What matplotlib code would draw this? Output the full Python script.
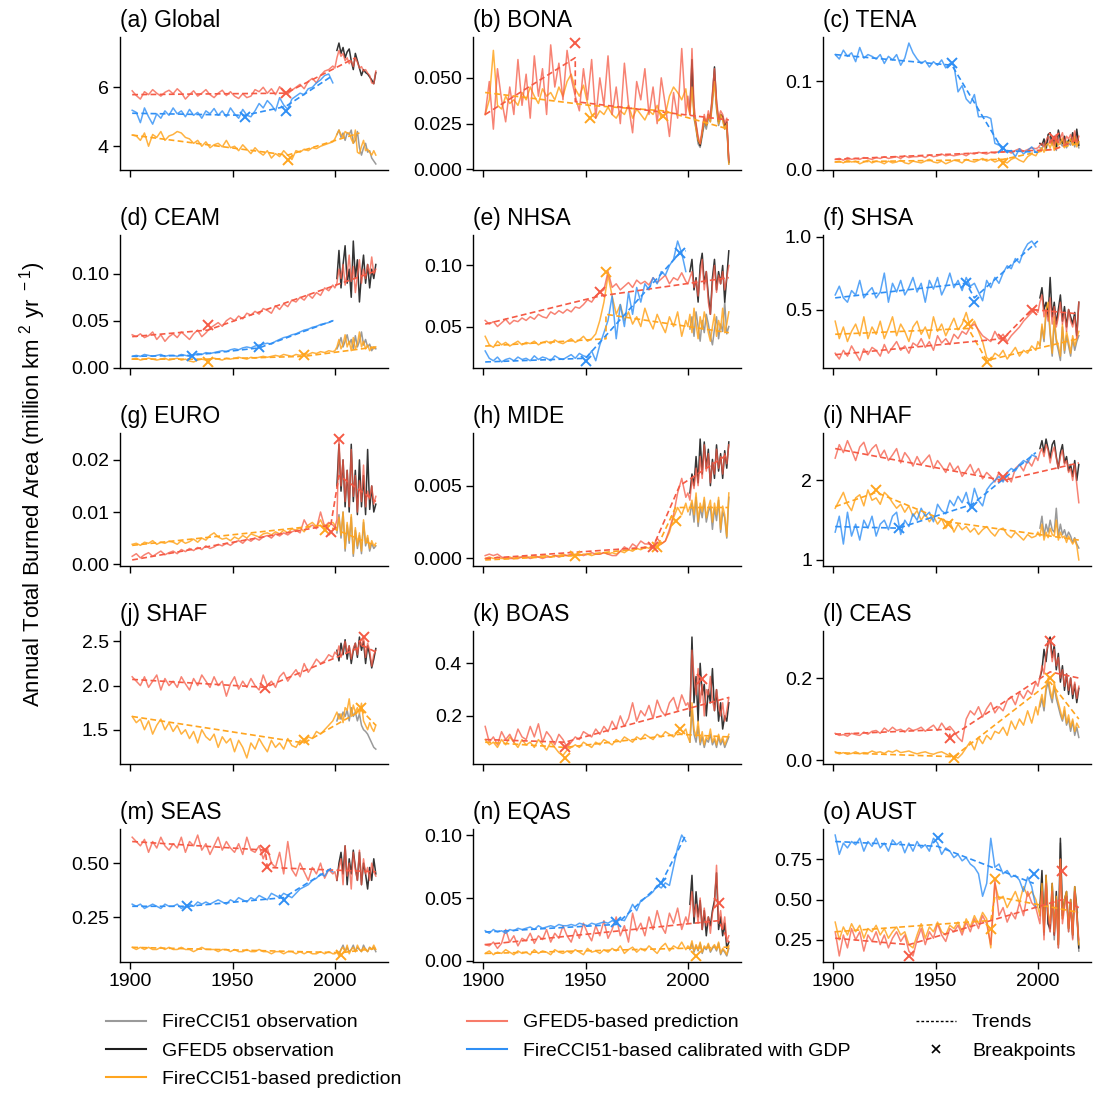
import numpy as np
import matplotlib
matplotlib.use("Agg")
import matplotlib.pyplot as plt
from matplotlib.lines import Line2D
from matplotlib.ticker import FormatStrFormatter

plt.rcParams["font.family"] = ["Liberation Sans", "DejaVu Sans"]
plt.rcParams["mathtext.fontset"] = "custom"
plt.rcParams["mathtext.rm"] = "Liberation Sans"

# Prediction years: biennial to 1999, annual from 2000
EARLY_YEARS = list(range(1901, 2000, 2))
RECENT_YEARS = list(range(2000, 2021))
PRED_YEARS = EARLY_YEARS + RECENT_YEARS
GDP_YEARS = EARLY_YEARS
OBS_YEARS = list(range(2001, 2021))

# ---------------- (a) Global, units of 0.01 Mkm2 ----------------
GLOBAL_PRED_GFED = [588, 572, 560, 585, 575, 592, 580, 570, 583, 590,
                    578, 595, 582, 560, 575, 588, 570, 580, 592, 575,
                    565, 580, 590, 572, 585, 570, 562, 578, 565, 570,
                    592, 585, 600, 580, 595, 575, 602, 585, 578, 590,
                    600, 610, 595, 620, 630, 615, 640, 655, 660, 672,
                    665, 700, 725, 705, 715, 690, 700, 680, 690, 670,
                    700, 685, 665, 670, 655, 660, 648, 640, 615, 612, 655]
GLOBAL_PRED_GDP = [522, 515, 480, 530, 500, 475, 510, 495, 520, 505,
                   530, 510, 520, 500, 525, 505, 515, 495, 520, 510,
                   528, 505, 520, 500, 530, 510, 495, 525, 505, 500,
                   520, 545, 530, 555, 540, 520, 565, 540, 525, 560,
                   570, 580, 575, 595, 600, 615, 625, 640, 645, 615]
GLOBAL_PRED_CCI = [438, 435, 420, 445, 400, 440, 430, 450, 420, 435,
                   440, 450, 445, 430, 425, 410, 420, 400, 415, 395,
                   405, 410, 398, 420, 395, 400, 385, 405, 390, 375,
                   395, 380, 370, 385, 360, 375, 365, 385, 370, 355,
                   385, 380, 390, 385, 395, 392, 400, 405, 410, 415,
                   425, 440, 455, 440, 430, 450, 445, 445, 425, 410,
                   455, 380, 375, 400, 420, 385, 390, 380, 370, 385, 370]
GLOBAL_OBS_GFED = [725, 750, 715, 735, 700, 720, 730, 690, 660, 715,
                   690, 665, 640, 660, 650, 645, 635, 625, 612, 650]
GLOBAL_OBS_CCI = [440, 455, 430, 445, 420, 445, 440, 455, 410, 420,
                  450, 395, 370, 395, 410, 380, 385, 360, 350, 340]
GLOBAL_TREND_GFED = ([1901, 1976, 2010], [575, 580, 700])
GLOBAL_BP_GFED = [(1976, 580)]
GLOBAL_TREND_GDP = ([1901, 1956, 1976, 1999], [512, 505, 535, 640])
GLOBAL_BP_GDP = [(1956, 500), (1976, 520)]
GLOBAL_TREND_CCI = ([1901, 1977, 2012], [438, 370, 445])
GLOBAL_BP_CCI = [(1977, 355)]

# ---------------- (b) BONA, units of 0.001 ----------------
BONA_PRED_GFED = [30, 48, 22, 55, 38, 26, 45, 30, 60, 35,
                  52, 28, 62, 40, 55, 30, 68, 45, 58, 38,
                  65, 50, 40, 32, 55, 38, 60, 28, 50, 35,
                  62, 30, 45, 25, 58, 35, 20, 48, 38, 55,
                  30, 45, 25, 50, 35, 18, 42, 28, 66, 30,
                  40, 30, 66, 35, 25, 18, 14, 22, 30, 25,
                  32, 28, 42, 55, 38, 28, 32, 30, 25, 28, 5]
BONA_PRED_CCI = [30, 38, 65, 35, 33, 40, 36, 38, 35, 42,
                 38, 45, 40, 36, 44, 40, 42, 38, 45, 40,
                 48, 52, 44, 40, 46, 36, 30, 28, 32, 30,
                 34, 30, 28, 32, 30, 35, 28, 33, 30, 27,
                 32, 30, 35, 28, 30, 40, 45, 42, 38, 44,
                 35, 30, 45, 30, 22, 16, 14, 20, 28, 24,
                 30, 26, 38, 48, 34, 25, 30, 27, 22, 25, 3]
BONA_OBS_GFED = [32, 60, 30, 24, 16, 13, 20, 28, 24, 30,
                 28, 40, 56, 36, 26, 30, 29, 24, 26, 4]
BONA_OBS_CCI = [30, 55, 28, 22, 14, 12, 18, 25, 22, 28,
                26, 36, 50, 33, 24, 28, 27, 22, 24, 3]
BONA_TREND_GFED = ([1901, 1945, 1945, 2020], [30, 61, 37, 27])
BONA_BP_GFED = [(1945, 69)]
BONA_TREND_CCI = ([1901, 1952, 1988, 2020], [42, 35, 32, 22])
BONA_BP_CCI = [(1952, 28), (1988, 29)]

# ---------------- (c) TENA, units of 0.001 ----------------
TENA_PRED_GFED = [12, 13, 11, 14, 12, 13, 12, 14, 13, 12,
                  14, 13, 15, 13, 14, 15, 13, 16, 14, 15,
                  15, 16, 14, 17, 15, 16, 18, 16, 17, 16,
                  17, 18, 16, 19, 18, 20, 19, 18, 20, 19,
                  21, 20, 22, 19, 22, 24, 21, 23, 25, 24,
                  25, 28, 30, 26, 33, 38, 30, 35, 28, 40,
                  32, 36, 42, 30, 38, 35, 40, 33, 44, 30, 38]
TENA_PRED_GDP = [130, 125, 135, 128, 132, 122, 138, 126, 130, 128,
                 125, 130, 120, 128, 124, 130, 118, 126, 143, 132,
                 125, 120, 123, 116, 122, 118, 124, 115, 120, 118,
                 88, 95, 80, 75, 85, 60, 60, 60, 58, 30,
                 28, 25, 20, 22, 15, 24, 18, 22, 26, 20]
TENA_PRED_CCI = [9, 10, 8, 11, 9, 10, 7, 9, 11, 8,
                 10, 9, 7, 10, 8, 9, 11, 8, 7, 10,
                 9, 8, 10, 12, 9, 8, 10, 7, 9, 11,
                 10, 8, 12, 10, 9, 11, 13, 10, 12, 9,
                 11, 10, 8, 12, 14, 11, 9, 15, 18, 16,
                 20, 22, 25, 20, 28, 30, 25, 32, 22, 35,
                 28, 30, 36, 25, 32, 30, 35, 28, 38, 26, 32]
TENA_OBS_GFED = [30, 28, 35, 25, 40, 42, 30, 38, 25, 45,
                 35, 30, 38, 28, 34, 32, 42, 30, 46, 28]
TENA_OBS_CCI = [25, 24, 30, 22, 35, 38, 28, 34, 22, 40,
                30, 27, 33, 25, 30, 28, 36, 26, 40, 25]
TENA_TREND_GFED = ([1901, 2008, 2020], [12, 23, 35])
TENA_BP_GFED = [(2008, 36)]
TENA_TREND_GDP = ([1901, 1958, 1983, 2000], [130, 118, 22, 20])
TENA_BP_GDP = [(1958, 120), (1983, 25)]
TENA_TREND_CCI = ([1901, 1983, 2020], [9, 12, 30])
TENA_BP_CCI = [(1983, 8)]

# ---------------- (d) CEAM, units of 0.001 ----------------
CEAM_PRED_GFED = [35, 33, 36, 32, 34, 38, 30, 35, 28, 33,
                  36, 32, 38, 34, 30, 36, 40, 33, 37, 42,
                  45, 48, 44, 50, 53, 50, 55, 52, 58, 56,
                  60, 57, 63, 61, 58, 66, 62, 68, 65, 72,
                  70, 75, 72, 78, 74, 80, 77, 85, 82, 88,
                  85, 90, 105, 95, 110, 88, 100, 120, 92, 108,
                  80, 98, 115, 90, 105, 95, 110, 100, 118, 100, 105]
CEAM_PRED_GDP = [12, 13, 12, 14, 13, 12, 13, 14, 12, 13,
                 13, 12, 14, 13, 12, 13, 15, 14, 16, 15,
                 16, 17, 18, 17, 19, 20, 19, 21, 22, 21,
                 23, 24, 25, 26, 25, 28, 30, 32, 33, 35,
                 36, 38, 40, 41, 43, 44, 46, 47, 48, 50]
CEAM_PRED_CCI = [9, 10, 8, 9, 10, 9, 8, 9, 10, 8,
                 9, 10, 8, 9, 7, 6, 8, 9, 8, 9,
                 10, 9, 8, 10, 9, 10, 11, 10, 9, 11,
                 10, 11, 12, 11, 12, 13, 12, 14, 13, 12,
                 14, 13, 15, 14, 16, 15, 17, 16, 18, 17,
                 18, 22, 30, 20, 25, 35, 22, 28, 18, 32,
                 20, 25, 38, 22, 28, 20, 24, 18, 22, 20, 22]
CEAM_OBS_GFED = [95, 125, 85, 110, 130, 90, 105, 75, 135, 95,
                 115, 70, 100, 120, 90, 110, 85, 105, 95, 110]
CEAM_OBS_CCI = [20, 25, 32, 22, 28, 35, 25, 30, 20, 34,
                22, 28, 38, 24, 30, 22, 25, 18, 22, 20]
CEAM_TREND_GFED = ([1901, 1938, 2020], [33, 40, 103])
CEAM_BP_GFED = [(1938, 45)]
CEAM_TREND_GDP = ([1901, 1930, 1963, 1999], [12, 13, 21, 50])
CEAM_BP_GDP = [(1930, 12), (1963, 22)]
CEAM_TREND_CCI = ([1901, 1938, 1985, 2020], [9, 9, 12, 22])
CEAM_BP_CCI = [(1938, 6), (1985, 13)]

# ---------------- (e) NHSA, units of 0.001 ----------------
NHSA_PRED_GFED = [55, 52, 54, 50, 53, 56, 52, 55, 54, 57,
                  55, 58, 56, 60, 58, 57, 62, 60, 63, 61,
                  64, 62, 66, 65, 68, 72, 70, 75, 78, 80,
                  95, 82, 85, 80, 83, 86, 82, 88, 85, 87,
                  84, 90, 86, 89, 92, 85, 90, 88, 94, 87,
                  85, 90, 95, 82, 88, 75, 92, 105, 80, 95,
                  70, 60, 85, 100, 78, 92, 85, 95, 80, 90, 100]
NHSA_PRED_GDP = [30, 24, 22, 25, 21, 23, 24, 22, 25, 23,
                 24, 22, 26, 23, 25, 24, 22, 26, 24, 23,
                 25, 27, 24, 28, 26, 25, 30, 22, 35, 45,
                 55, 75, 40, 68, 50, 78, 60, 82, 70, 85,
                 80, 90, 85, 95, 92, 100, 105, 120, 110, 95]
NHSA_PRED_CCI = [42, 35, 33, 38, 35, 37, 34, 36, 38, 35,
                 37, 36, 38, 35, 37, 38, 36, 39, 37, 36,
                 38, 40, 37, 39, 42, 38, 40, 44, 55, 70,
                 92, 75, 60, 68, 55, 62, 52, 58, 50, 65,
                 55, 48, 60, 52, 45, 58, 50, 62, 42, 55,
                 50, 60, 45, 65, 52, 40, 58, 48, 62, 55,
                 45, 38, 50, 60, 42, 55, 48, 65, 45, 52, 62]
NHSA_OBS_GFED = [95, 105, 80, 90, 70, 100, 110, 85, 95, 75,
                 60, 90, 105, 80, 95, 85, 100, 70, 90, 112]
NHSA_OBS_CCI = [48, 58, 42, 62, 50, 38, 55, 45, 60, 52,
                42, 35, 48, 58, 40, 52, 46, 70, 44, 50]
NHSA_TREND_GFED = ([1901, 1957, 2020], [52, 75, 90])
NHSA_BP_GFED = [(1957, 78)]
NHSA_TREND_GDP = ([1901, 1950, 1996, 1999], [21, 24, 110, 112])
NHSA_BP_GDP = [(1950, 22), (1996, 110)]
NHSA_TREND_CCI = ([1901, 1960, 1960, 2020], [34, 40, 60, 45])
NHSA_BP_CCI = [(1960, 95)]

# ---------------- (f) SHSA, units of 0.01 ----------------
SHSA_PRED_GFED = [20, 16, 22, 18, 25, 20, 15, 23, 19, 24,
                  22, 18, 26, 20, 24, 28, 22, 25, 20, 27,
                  25, 30, 24, 28, 22, 32, 27, 30, 26, 33,
                  30, 35, 33, 38, 40, 36, 32, 30, 28, 35,
                  30, 33, 28, 32, 35, 38, 42, 45, 48, 50,
                  48, 55, 60, 45, 50, 42, 58, 40, 52, 38,
                  45, 55, 40, 48, 35, 50, 42, 38, 45, 30, 55]
SHSA_PRED_GDP = [60, 66, 58, 55, 63, 60, 70, 58, 62, 65,
                 58, 62, 75, 55, 68, 62, 70, 60, 65, 72,
                 62, 68, 55, 70, 64, 72, 60, 66, 75, 65,
                 70, 63, 72, 66, 68, 62, 56, 70, 65, 72,
                 68, 75, 80, 78, 85, 82, 90, 95, 97, 93]
SHSA_PRED_CCI = [42, 30, 38, 28, 35, 40, 32, 45, 30, 38,
                 33, 42, 30, 37, 45, 32, 40, 35, 28, 38,
                 42, 33, 38, 30, 45, 35, 40, 32, 38, 44,
                 36, 40, 48, 38, 42, 35, 28, 17, 15, 20,
                 18, 22, 16, 20, 24, 18, 22, 20, 25, 22,
                 28, 25, 40, 30, 50, 55, 35, 20, 45, 30,
                 25, 18, 40, 22, 35, 28, 20, 32, 25, 30, 35]
SHSA_OBS_GFED = [58, 65, 50, 55, 45, 72, 45, 55, 40, 50,
                 60, 42, 52, 38, 50, 45, 40, 48, 32, 55]
SHSA_OBS_CCI = [25, 38, 28, 48, 52, 33, 18, 42, 28, 22,
                15, 38, 20, 32, 25, 18, 30, 22, 28, 32]
SHSA_TREND_GFED = ([1901, 1983, 1997, 2020], [19, 30, 50, 47])
SHSA_BP_GFED = [(1983, 30), (1997, 50)]
SHSA_TREND_GDP = ([1901, 1965, 1969, 2000], [58, 68, 58, 97])
SHSA_BP_GDP = [(1965, 68), (1969, 55)]
SHSA_TREND_CCI = ([1901, 1966, 1975, 2020], [33, 37, 15, 30])
SHSA_BP_CCI = [(1966, 40), (1975, 14)]

# ---------------- (g) EURO, units of 0.0001 ----------------
EURO_PRED_GFED = [15, 20, 12, 18, 22, 15, 20, 25, 18, 22,
                  25, 20, 28, 24, 30, 26, 32, 28, 35, 30,
                  33, 38, 35, 40, 36, 42, 45, 40, 48, 44,
                  50, 46, 52, 55, 50, 58, 54, 60, 56, 62,
                  65, 60, 85, 70, 75, 68, 100, 72, 80, 75,
                  70, 85, 240, 150, 200, 120, 180, 110, 220, 130,
                  170, 100, 160, 120, 190, 110, 140, 125, 150, 115, 130]
EURO_PRED_CCI = [38, 40, 36, 42, 40, 45, 38, 42, 40, 44,
                 42, 38, 45, 40, 43, 48, 42, 50, 46, 55,
                 60, 52, 48, 50, 45, 52, 48, 55, 50, 58,
                 55, 52, 58, 60, 56, 62, 58, 65, 60, 68,
                 65, 70, 62, 75, 80, 72, 85, 68, 78, 80,
                 75, 65, 90, 55, 100, 30, 80, 45, 95, 20,
                 70, 35, 60, 25, 85, 40, 55, 30, 45, 35, 40]
EURO_OBS_GFED = [150, 230, 140, 200, 110, 180, 100, 230, 120, 180,
                 95, 200, 110, 170, 95, 220, 105, 150, 100, 115]
EURO_OBS_CCI = [60, 95, 50, 100, 25, 75, 40, 90, 15, 65,
                30, 55, 20, 80, 35, 50, 25, 40, 30, 35]
EURO_TREND_GFED = ([1901, 1998, 2002, 2020], [8, 75, 170, 120])
EURO_BP_GFED = [(1998, 62), (2002, 240)]
EURO_TREND_CCI = ([1901, 1995, 2020], [36, 75, 35])
EURO_BP_CCI = [(1995, 65)]

# ---------------- (h) MIDE, units of 0.0001 ----------------
MIDE_PRED_GFED = [2, 3, 2, 3, 1, 0, 0, 0, 0, 1,
                  1, 0, 1, 1, 0, 1, 1, 2, 1, 2,
                  2, 3, 2, 3, 2, 3, 4, 3, 3, 4,
                  3, 2, 2, 5, 8, 6, 10, 8, 12, 10,
                  10, 8, 14, 10, 12, 20, 30, 45, 55, 42,
                  45, 40, 55, 48, 62, 50, 70, 55, 78, 60,
                  72, 52, 66, 58, 75, 62, 70, 58, 72, 65, 78]
MIDE_PRED_CCI = [0, 1, 0, 1, 0, 0, 1, 0, 1, 1,
                 1, 1, 2, 1, 2, 2, 1, 2, 2, 3,
                 2, 2, 3, 2, 3, 3, 2, 3, 3, 4,
                 3, 4, 3, 5, 4, 6, 5, 7, 6, 8,
                 7, 9, 8, 10, 12, 18, 28, 35, 30, 38,
                 32, 35, 40, 30, 45, 25, 38, 32, 42, 28,
                 35, 40, 25, 38, 30, 42, 20, 36, 30, 15, 45]
MIDE_OBS_GFED = [45, 58, 50, 70, 52, 82, 58, 80, 62, 75,
                 50, 68, 55, 78, 60, 72, 55, 74, 62, 80]
MIDE_OBS_CCI = [30, 38, 25, 42, 22, 35, 28, 40, 25, 32,
                36, 20, 35, 26, 40, 18, 32, 28, 14, 42]
MIDE_TREND_GFED = ([1901, 1983, 1996, 2020], [0, 8, 50, 72])
MIDE_BP_GFED = [(1983, 8)]
MIDE_TREND_CCI = ([1901, 1945, 1985, 1994, 2020], [-1, 2, 8, 35, 35])
MIDE_BP_CCI = [(1945, 2), (1985, 8), (1994, 26)]

# ---------------- (i) NHAF, units of 0.01 ----------------
NHAF_PRED_GFED = [228, 245, 235, 250, 238, 225, 242, 248, 232, 240,
                  245, 230, 238, 225, 232, 240, 222, 235, 228, 218,
                  230, 220, 226, 232, 215, 225, 218, 210, 222, 212,
                  218, 205, 212, 220, 208, 215, 202, 210, 205, 198,
                  210, 200, 206, 198, 215, 220, 212, 225, 218, 230,
                  225, 235, 240, 230, 245, 238, 222, 235, 242, 228,
                  215, 230, 238, 220, 225, 210, 215, 200, 220, 195, 172]
NHAF_PRED_GDP = [135, 155, 120, 160, 130, 145, 125, 150, 140, 155,
                 130, 145, 150, 138, 155, 160, 132, 150, 142, 158,
                 150, 165, 155, 160, 148, 170, 162, 158, 175, 168,
                 180, 172, 185, 165, 190, 175, 168, 188, 195, 200,
                 205, 198, 210, 215, 212, 220, 225, 222, 232, 230]
NHAF_PRED_CCI = [165, 175, 185, 170, 162, 178, 182, 168, 188, 175,
                 178, 170, 185, 180, 172, 165, 170, 160, 168, 155,
                 162, 150, 158, 148, 155, 145, 152, 140, 148, 135,
                 145, 138, 142, 135, 140, 132, 138, 142, 135, 130,
                 138, 140, 132, 128, 135, 130, 125, 132, 128, 130,
                 135, 130, 145, 125, 135, 128, 140, 132, 130, 150,
                 125, 135, 128, 130, 122, 130, 125, 120, 125, 118, 100]
NHAF_OBS_GFED = [240, 250, 235, 252, 240, 228, 245, 250, 230, 215,
                 235, 245, 222, 230, 212, 220, 205, 225, 200, 220]
NHAF_OBS_CCI = [140, 155, 130, 145, 135, 150, 138, 135, 165, 130,
                145, 132, 138, 128, 135, 130, 122, 128, 120, 115]
NHAF_TREND_GFED = ([1901, 1983, 2020], [240, 200, 222])
NHAF_BP_GFED = [(1983, 204)]
NHAF_TREND_GDP = ([1901, 1932, 1968, 1999], [142, 140, 170, 235])
NHAF_BP_GDP = [(1932, 140), (1968, 166)]
NHAF_TREND_CCI = ([1901, 1921, 1956, 2020], [167, 185, 148, 125])
NHAF_BP_CCI = [(1921, 188), (1956, 145)]

# ---------------- (j) SHAF, units of 0.01 ----------------
SHAF_PRED_GFED = [210, 205, 200, 210, 198, 205, 212, 195, 208, 200,
                  205, 198, 210, 202, 195, 208, 200, 212, 205, 198,
                  210, 200, 205, 188, 202, 210, 196, 205, 198, 208,
                  200, 195, 212, 200, 205, 198, 210, 215, 205, 212,
                  218, 210, 225, 215, 222, 230, 225, 228, 235, 232,
                  238, 235, 245, 232, 240, 250, 238, 245, 230, 242,
                  248, 235, 250, 245, 255, 232, 248, 240, 222, 235, 240]
SHAF_PRED_CCI = [165, 158, 162, 150, 160, 145, 155, 162, 150, 158,
                 148, 155, 145, 150, 140, 148, 135, 150, 142, 138,
                 145, 130, 142, 135, 140, 125, 138, 130, 118, 135,
                 128, 140, 132, 125, 138, 130, 135, 128, 140, 132,
                 130, 138, 135, 142, 140, 148, 145, 150, 155, 160,
                 165, 170, 162, 168, 158, 175, 172, 185, 165, 178,
                 170, 175, 168, 180, 160, 155, 150, 158, 152, 148, 155]
SHAF_OBS_GFED = [240, 228, 248, 235, 252, 230, 245, 225, 240, 248,
                 232, 255, 240, 250, 225, 245, 235, 220, 230, 242]
SHAF_OBS_CCI = [160, 168, 162, 170, 165, 172, 160, 175, 165, 170,
                160, 168, 155, 150, 148, 145, 140, 135, 130, 128]
SHAF_TREND_GFED = ([1901, 1966, 2014, 2020], [207, 198, 245, 238])
SHAF_BP_GFED = [(1966, 197), (2014, 255)]
SHAF_TREND_CCI = ([1901, 1985, 2013, 2020], [165, 135, 172, 155])
SHAF_BP_CCI = [(1985, 138), (2013, 175)]

# ---------------- (k) BOAS, units of 0.01 ----------------
BOAS_PRED_GFED = [16, 10, 12, 9, 14, 11, 13, 10, 15, 12,
                  11, 16, 12, 17, 10, 14, 12, 9, 13, 11,
                  8, 10, 12, 11, 14, 13, 12, 15, 13, 16,
                  14, 18, 15, 20, 16, 19, 25, 18, 22, 20,
                  24, 19, 26, 22, 20, 25, 27, 22, 28, 24,
                  25, 22, 45, 35, 28, 38, 25, 32, 20, 30,
                  28, 35, 26, 22, 30, 24, 20, 25, 18, 22, 27]
BOAS_PRED_CCI = [11, 9, 10, 8, 11, 9, 12, 10, 8, 11,
                 9, 10, 8, 11, 9, 7, 10, 8, 6, 5,
                 7, 8, 9, 8, 10, 9, 8, 10, 9, 11,
                 10, 9, 11, 10, 12, 11, 10, 12, 11, 13,
                 12, 11, 13, 12, 14, 13, 12, 14, 13, 15,
                 12, 10, 25, 15, 12, 18, 10, 14, 9, 12,
                 11, 15, 10, 12, 9, 13, 10, 12, 9, 11, 13]
BOAS_OBS_GFED = [20, 50, 25, 35, 18, 40, 28, 32, 20, 30,
                 25, 38, 22, 30, 18, 25, 15, 20, 18, 25]
BOAS_OBS_CCI = [10, 22, 13, 10, 16, 9, 12, 8, 11, 10,
                13, 9, 11, 8, 12, 9, 11, 8, 10, 12]
BOAS_TREND_GFED = ([1901, 1940, 2020], [11, 10, 27])
BOAS_BP_GFED = [(1940, 8), (2007, 34)]
BOAS_TREND_CCI = ([1901, 1940, 1996, 2020], [10, 8, 13, 12])
BOAS_BP_CCI = [(1940, 4), (1996, 15)]

# ---------------- (l) CEAS, units of 0.001 ----------------
CEAS_PRED_GFED = [65, 60, 62, 58, 65, 62, 60, 68, 63, 70,
                  72, 65, 78, 70, 80, 72, 75, 68, 78, 72,
                  75, 80, 70, 78, 85, 72, 90, 75, 82, 70,
                  55, 45, 100, 120, 110, 130, 105, 125, 140, 115,
                  130, 120, 145, 155, 135, 165, 150, 170, 160, 190,
                  180, 200, 230, 210, 260, 280, 290, 240, 270, 230,
                  250, 200, 220, 180, 210, 170, 200, 160, 190, 150, 180]
CEAS_PRED_CCI = [20, 15, 18, 14, 16, 20, 15, 18, 17, 22,
                 18, 20, 16, 22, 19, 24, 18, 20, 22, 18,
                 15, 18, 20, 16, 14, 18, 20, 15, 10, 8,
                 5, 15, 30, 45, 25, 55, 40, 60, 50, 70,
                 65, 80, 60, 95, 75, 100, 85, 120, 90, 130,
                 110, 140, 160, 130, 180, 200, 170, 150, 190, 160,
                 140, 120, 100, 130, 90, 110, 80, 100, 70, 90, 80]
CEAS_OBS_GFED = [200, 220, 270, 240, 290, 300, 250, 280, 220, 260,
                 190, 230, 170, 210, 160, 200, 150, 185, 140, 175]
CEAS_OBS_CCI = [130, 150, 120, 170, 190, 160, 140, 180, 150, 130,
                110, 95, 120, 85, 100, 70, 95, 60, 80, 55]
CEAS_TREND_GFED = ([1901, 1957, 1957, 2006, 2020], [63, 75, 55, 215, 200])
CEAS_BP_GFED = [(1957, 54), (2006, 290)]
CEAS_TREND_CCI = ([1901, 1959, 2006, 2020], [18, 8, 190, 100])
CEAS_BP_CCI = [(1959, 5), (2006, 200)]

# ---------------- (m) SEAS, units of 0.01 ----------------
SEAS_PRED_GFED = [62, 60, 58, 61, 55, 60, 57, 62, 58, 56,
                  59, 57, 62, 55, 60, 58, 63, 56, 59, 54,
                  58, 62, 56, 60, 57, 55, 59, 54, 62, 56,
                  55, 58, 52, 57, 50, 48, 55, 45, 60, 47,
                  44, 50, 46, 42, 48, 45, 50, 43, 47, 45,
                  46, 42, 48, 52, 40, 58, 44, 50, 38, 55,
                  47, 42, 56, 40, 52, 45, 48, 42, 50, 46, 44]
SEAS_PRED_GDP = [31, 30, 31, 29, 30, 31, 30, 29, 31, 30,
                 30, 31, 29, 30, 31, 30, 32, 31, 32, 31,
                 32, 33, 32, 31, 33, 32, 34, 33, 32, 34,
                 33, 35, 34, 33, 36, 35, 34, 36, 35, 34,
                 36, 38, 39, 40, 42, 43, 45, 44, 47, 46]
SEAS_PRED_CCI = [11, 10, 11, 10, 11, 10, 10, 11, 10, 11,
                 10, 10, 11, 10, 10, 9, 10, 11, 10, 10,
                 10, 9, 10, 10, 9, 10, 9, 9, 10, 9,
                 9, 10, 9, 9, 8, 9, 9, 8, 9, 9,
                 8, 9, 8, 9, 8, 8, 9, 8, 9, 8,
                 8, 9, 7, 10, 11, 9, 12, 8, 10, 11,
                 9, 12, 10, 9, 11, 10, 9, 11, 10, 12, 10]
SEAS_OBS_GFED = [42, 50, 55, 45, 58, 40, 52, 45, 56, 48,
                 42, 55, 40, 50, 45, 38, 48, 42, 52, 45]
SEAS_OBS_CCI = [9, 8, 10, 12, 9, 11, 9, 10, 12, 9,
                11, 10, 9, 12, 10, 9, 11, 10, 11, 9]
SEAS_TREND_GFED = ([1901, 1966, 1967, 2020], [60, 56, 48, 46])
SEAS_BP_GFED = [(1966, 56), (1967, 48)]
SEAS_TREND_GDP = ([1901, 1928, 1975, 1999], [30, 30, 34, 48])
SEAS_BP_GDP = [(1928, 30), (1975, 33)]
SEAS_TREND_CCI = ([1901, 2003, 2020], [11, 8.5, 10.5])
SEAS_BP_CCI = [(2003, 7.5)]

# ---------------- (n) EQAS, units of 0.001 ----------------
EQAS_PRED_GFED = [13, 12, 15, 10, 14, 25, 15, 20, 12, 18,
                  16, 22, 14, 20, 17, 25, 15, 22, 18, 28,
                  20, 15, 25, 18, 30, 22, 16, 28, 20, 32,
                  18, 25, 35, 20, 28, 15, 38, 24, 30, 20,
                  35, 25, 40, 28, 22, 38, 30, 42, 25, 35,
                  30, 40, 55, 35, 45, 30, 50, 25, 42, 28,
                  35, 22, 38, 45, 76, 30, 40, 25, 35, 15, 20]
EQAS_PRED_GDP = [24, 22, 25, 23, 24, 22, 25, 24, 26, 25,
                 26, 27, 25, 28, 26, 27, 28, 27, 29, 28,
                 28, 29, 28, 30, 29, 28, 30, 29, 30, 31,
                 30, 32, 31, 33, 32, 38, 45, 40, 48, 50,
                 52, 55, 60, 58, 62, 60, 75, 90, 100, 95]
EQAS_PRED_CCI = [6, 8, 5, 7, 6, 9, 7, 5, 8, 6,
                 7, 5, 9, 6, 8, 7, 5, 9, 7, 6,
                 8, 6, 9, 7, 5, 10, 7, 8, 6, 9,
                 7, 10, 8, 12, 6, 9, 11, 7, 10, 8,
                 12, 9, 6, 11, 14, 8, 12, 10, 15, 9,
                 12, 10, 16, 8, 13, 9, 15, 7, 12, 10,
                 14, 8, 11, 13, 9, 15, 6, 10, 8, 5, 12]
EQAS_OBS_GFED = [45, 68, 30, 55, 35, 48, 25, 40, 20, 35,
                 28, 40, 48, 70, 25, 35, 20, 30, 10, 15]
EQAS_OBS_CCI = [9, 14, 7, 12, 8, 14, 6, 11, 9, 13,
                7, 10, 12, 8, 14, 5, 9, 7, 4, 10]
EQAS_TREND_GFED = ([1901, 2015, 2020], [13, 32, 15])
EQAS_BP_GFED = [(2015, 46)]
EQAS_TREND_GDP = ([1901, 1965, 1987, 1999], [23, 29, 62, 100])
EQAS_BP_GDP = [(1965, 31), (1987, 62)]
EQAS_TREND_CCI = ([1901, 2020], [6, 11])
EQAS_BP_CCI = [(2004, 4)]

# ---------------- (o) AUST, units of 0.01 ----------------
AUST_PRED_GFED = [30, 15, 28, 20, 32, 25, 30, 18, 28, 24,
                  30, 22, 28, 20, 26, 30, 24, 28, 18, 15,
                  25, 32, 22, 30, 26, 35, 28, 24, 32, 30,
                  34, 28, 36, 30, 38, 32, 40, 35, 22, 62,
                  40, 45, 36, 42, 38, 48, 40, 55, 48, 45,
                  40, 35, 55, 25, 60, 40, 30, 55, 28, 50,
                  20, 75, 35, 45, 52, 30, 48, 25, 55, 40, 25]
AUST_PRED_GDP = [90, 78, 85, 82, 86, 84, 88, 80, 86, 83,
                 88, 82, 85, 80, 87, 84, 86, 79, 85, 80,
                 86, 82, 84, 80, 88, 85, 78, 82, 80, 76,
                 78, 74, 76, 72, 70, 66, 52, 60, 88, 70,
                 72, 66, 68, 64, 65, 62, 55, 64, 58, 45]
AUST_PRED_CCI = [36, 25, 33, 28, 35, 30, 34, 26, 32, 30,
                 34, 28, 32, 26, 30, 33, 28, 30, 22, 20,
                 28, 35, 26, 33, 30, 36, 30, 28, 34, 32,
                 36, 30, 38, 33, 40, 35, 42, 38, 20, 60,
                 50, 52, 45, 50, 55, 48, 58, 52, 55, 50,
                 45, 40, 60, 30, 65, 42, 35, 60, 30, 52,
                 22, 75, 38, 50, 55, 32, 50, 28, 58, 42, 22]
AUST_OBS_GFED = [45, 68, 30, 65, 35, 32, 60, 28, 55, 22,
                 88, 40, 50, 55, 32, 50, 28, 58, 45, 20]
AUST_OBS_CCI = [40, 62, 28, 62, 35, 30, 58, 25, 52, 20,
                85, 38, 48, 52, 30, 48, 26, 55, 42, 18]
AUST_TREND_GFED = ([1901, 1937, 2012, 2020], [26, 22, 50, 45])
AUST_BP_GFED = [(1937, 15), (2012, 68)]
AUST_TREND_GDP = ([1901, 1951, 1998], [86, 83, 60])
AUST_BP_GDP = [(1951, 88), (1998, 66)]
AUST_TREND_CCI = ([1901, 1977, 1979, 2020], [30, 37, 52, 42])
AUST_BP_CCI = [(1977, 32), (1979, 63)]

# Panel order, value unit, y ticks and tick format
REGIONS = ["GLOBAL", "BONA", "TENA", "CEAM", "NHSA", "SHSA", "EURO", "MIDE",
           "NHAF", "SHAF", "BOAS", "CEAS", "SEAS", "EQAS", "AUST"]
TITLES = ["(a) Global", "(b) BONA", "(c) TENA", "(d) CEAM", "(e) NHSA",
          "(f) SHSA", "(g) EURO", "(h) MIDE", "(i) NHAF", "(j) SHAF",
          "(k) BOAS", "(l) CEAS", "(m) SEAS", "(n) EQAS", "(o) AUST"]
UNITS = [0.01, 0.001, 0.001, 0.001, 0.001, 0.01, 0.0001, 0.0001,
         0.01, 0.01, 0.01, 0.001, 0.01, 0.001, 0.01]
YTICKS = [[4, 6], [0, 0.025, 0.05], [0, 0.1], [0, 0.05, 0.10], [0.05, 0.10],
          [0.5, 1.0], [0, 0.01, 0.02], [0, 0.005], [1, 2], [1.5, 2.0, 2.5],
          [0.2, 0.4], [0, 0.2], [0.25, 0.50], [0, 0.05, 0.10], [0.25, 0.50, 0.75]]
YFMT = ["%d", "%.3f", "%.1f", "%.2f", "%.2f", "%.1f", "%.2f", "%.3f", "%d",
        "%.1f", "%.1f", "%.1f", "%.2f", "%.2f", "%.2f"]

C_OBS_CCI = "#9a9a9a"
C_OBS_GFED = "#1e1e1e"
C_PRED_CCI = "#FFA51F"
C_PRED_GFED = "#F55A45"
C_PRED_GDP = "#2F8FF5"

W, H = 1097, 1093
COL_LEFT = [120, 473, 823]
ROW_BOTTOM = [170, 368, 566, 764, 962]
AX_W, AX_H = 268, 133

fig = plt.figure(figsize=(W / 100, H / 100), dpi=100)


def series(name, unit):
    vals = globals().get(name)
    return None if vals is None else np.asarray(vals, dtype=float) * unit


for i, key in enumerate(REGIONS):
    r, c = divmod(i, 3)
    ax = fig.add_axes([COL_LEFT[c] / W, 1 - ROW_BOTTOM[r] / H, AX_W / W, AX_H / H])
    u = UNITS[i]

    ax.plot(OBS_YEARS, series(key + "_OBS_CCI", u), color=C_OBS_CCI, lw=1.1, zorder=1)
    ax.plot(OBS_YEARS, series(key + "_OBS_GFED", u), color=C_OBS_GFED, lw=1.1,
            alpha=0.9, zorder=2)
    ax.plot(PRED_YEARS, series(key + "_PRED_CCI", u), color=C_PRED_CCI, lw=1.1,
            alpha=0.85, zorder=3)
    ax.plot(PRED_YEARS, series(key + "_PRED_GFED", u), color=C_PRED_GFED, lw=1.1,
            alpha=0.75, zorder=4)
    gdp = series(key + "_PRED_GDP", u)
    if gdp is not None:
        ax.plot(GDP_YEARS, gdp, color=C_PRED_GDP, lw=1.1, alpha=0.8, zorder=5)

    for tag, col in (("CCI", C_PRED_CCI), ("GFED", C_PRED_GFED), ("GDP", C_PRED_GDP)):
        trend = globals().get(key + "_TREND_" + tag)
        if trend is None:
            continue
        ax.plot(trend[0], np.asarray(trend[1], dtype=float) * u, color=col, lw=1.2,
                ls=(0, (3.5, 2)), zorder=6)
        bps = globals().get(key + "_BP_" + tag, [])
        if bps:
            bx = [b[0] for b in bps]
            by = [b[1] * u for b in bps]
            ax.plot(bx, by, ls="none", marker="x", ms=7, mew=1.4, color=col, zorder=7)

    ax.margins(x=0.05, y=0.05)
    ax.set_xticks([1900, 1950, 2000])
    ax.set_yticks(YTICKS[i])
    ax.yaxis.set_major_formatter(FormatStrFormatter(YFMT[i]))
    ax.tick_params(direction="out", length=5, width=1, labelsize=14, pad=3,
                   colors="black")
    if r < 4:
        ax.tick_params(axis="x", labelbottom=False)
    for side in ("top", "right"):
        ax.spines[side].set_visible(False)
    for side in ("left", "bottom"):
        ax.spines[side].set_linewidth(1.0)
    ax.set_title(TITLES[i], loc="left", fontsize=16.5, pad=7)

fig.text(0.03, 0.557, r"Annual Total Burned Area (million km$^{\ 2}$ yr$^{\ -1}$)",
         rotation=90, ha="center", va="center", fontsize=16)

blank = Line2D([], [], ls="none")
handles = [
    Line2D([], [], color=C_OBS_CCI, lw=1.5),
    Line2D([], [], color=C_OBS_GFED, lw=1.5),
    Line2D([], [], color=C_PRED_CCI, lw=1.5),
    Line2D([], [], color=C_PRED_GFED, lw=1.5, alpha=0.8),
    Line2D([], [], color=C_PRED_GDP, lw=1.5),
    blank,
    Line2D([], [], color="black", lw=1.0, ls=(0, (2, 1.5))),
    Line2D([], [], color="black", ls="none", marker="x", ms=6, mew=1.2),
    blank,
]
labels = ["FireCCI51 observation", "GFED5 observation", "FireCCI51-based prediction",
          "GFED5-based prediction", "FireCCI51-based calibrated with GDP", "",
          "Trends", "Breakpoints", ""]
fig.legend(handles, labels, ncol=3, loc="upper left",
           bbox_to_anchor=(98 / W, 1 - 1006 / H), frameon=False, fontsize=14,
           handlelength=2.05, handletextpad=0.85, columnspacing=3.35,
           labelspacing=0.55, borderaxespad=0)

fig.savefig("out.png", dpi=100)
